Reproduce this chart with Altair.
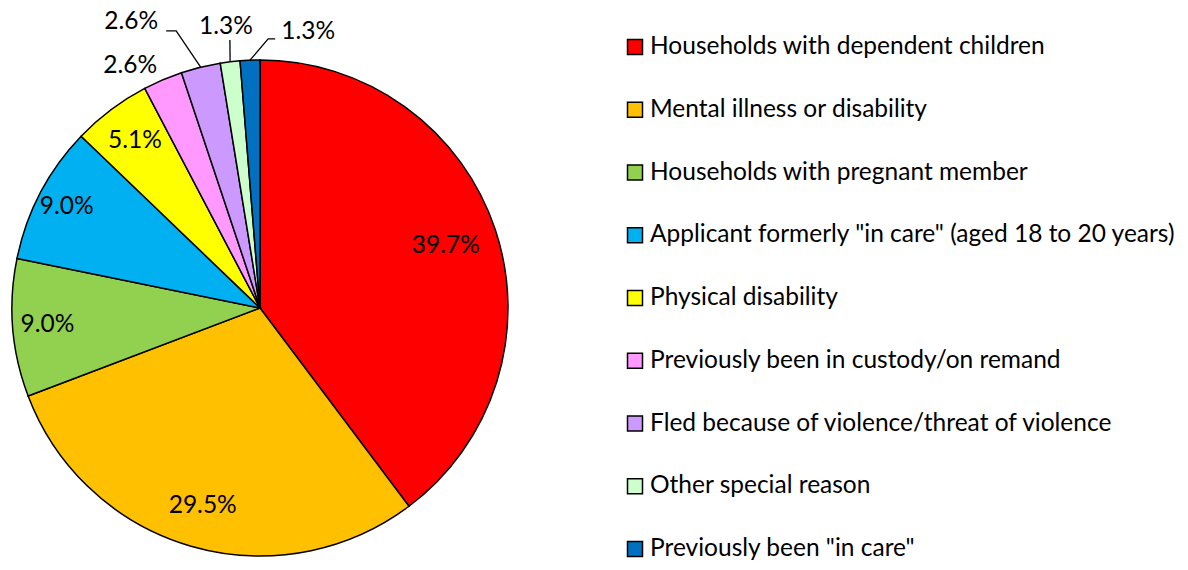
import math
import altair as alt
import pandas as pd

categories = [
    "Households with dependent children",
    "Mental illness or disability",
    "Households with pregnant member",
    "Applicant formerly \"in care\" (aged 18 to 20 years)",
    "Physical disability",
    "Previously been in custody/on remand",
    "Fled because of violence/threat of violence",
    "Other special reason",
    "Previously been \"in care\"",
]
counts = [31, 23, 7, 7, 4, 2, 2, 1, 1]
colors = ["#FF0000", "#FFC000", "#92D050", "#00B0F0", "#FFFF00",
          "#FF99FF", "#CC99FF", "#CCFFCC", "#0070C0"]

# layout constants (plot-area pixels)
CX, CY, R = 252, 300, 248
FONT = "Lato"
FS = 24.5
# label placement: (radius factor, angle nudge in degrees)
label_place = [(0.79, 0), (0.83, 0), (0.86, 0), (0.88, 0), (0.84, 0),
               (1.108, -5.1), (1.265, -10.4), (1.141, 0), (1.13, 12.2)]
# leader line points relative to the label centre (elbow, end)
leaders = {6: [(45, 9), (35, 9)], 7: [(4, 13), (4, 13)], 8: [(-40, 7), (-33, 7)]}

total = sum(counts)
df = pd.DataFrame({"category": categories, "count": counts, "idx": range(len(counts))})

lab_rows, lead_rows = [], []
cum = 0
for i, c in enumerate(counts):
    mid = (cum + c / 2) / total * 360
    cum += c
    rf, da = label_place[i]
    a = math.radians(mid + da)
    lx = CX + math.sin(a) * R * rf
    ly = CY - math.cos(a) * R * rf
    lab_rows.append({"lx": lx, "ly": ly, "txt": f"{c / total * 100:.1f}%"})
    if i in leaders:
        am = math.radians(mid)
        pts = [(CX + math.sin(am) * R, CY - math.cos(am) * R)]
        for dx, dy in leaders[i]:
            pts.append((lx + dx, ly + dy))
        for o, (px, py) in enumerate(pts):
            lead_rows.append({"g": i, "o": o, "px": px, "py": py})

labels = pd.DataFrame(lab_rows)
lead = pd.DataFrame(lead_rows)

pie = alt.Chart(df).mark_arc(
    stroke="black", strokeWidth=1.5, outerRadius=R, x=CX, y=CY
).encode(
    theta=alt.Theta("count:Q", stack=True),
    color=alt.Color("category:N", scale=alt.Scale(domain=categories, range=colors), legend=None),
    order=alt.Order("idx:Q"),
)

pct = alt.Chart(labels).mark_text(font=FONT, fontSize=FS, color="black",
                                  align="center", baseline="middle").encode(
    x=alt.X("lx:Q", scale=None, axis=None),
    y=alt.Y("ly:Q", scale=None, axis=None),
    text="txt:N",
)

lines = alt.Chart(lead).mark_line(color="black", strokeWidth=1.3).encode(
    x=alt.X("px:Q", scale=None, axis=None),
    y=alt.Y("py:Q", scale=None, axis=None),
    detail="g:N",
    order="o:Q",
)

ley = alt.Y("category:N", sort=categories,
            scale=alt.Scale(type="point", range=[39, 541], padding=0), axis=None)
leg_sq = alt.Chart(df).mark_square(size=225, stroke="black", strokeWidth=1.5, opacity=1).encode(
    x=alt.value(627),
    y=ley,
    color=alt.Color("category:N", scale=alt.Scale(domain=categories, range=colors), legend=None),
)
leg_tx = alt.Chart(df).mark_text(font=FONT, fontSize=FS, color="black",
                                 align="left", baseline="middle").encode(
    x=alt.value(642),
    y=ley,
    text="category:N",
)

chart = alt.layer(pie, lines, pct, leg_sq, leg_tx).resolve_scale(
    x="independent", y="independent"
).properties(
    width=1172, height=554, autosize="none", padding=0
).configure_view(stroke=None)

chart.save("out.html", embed_options={"renderer": "svg", "actions": False})
